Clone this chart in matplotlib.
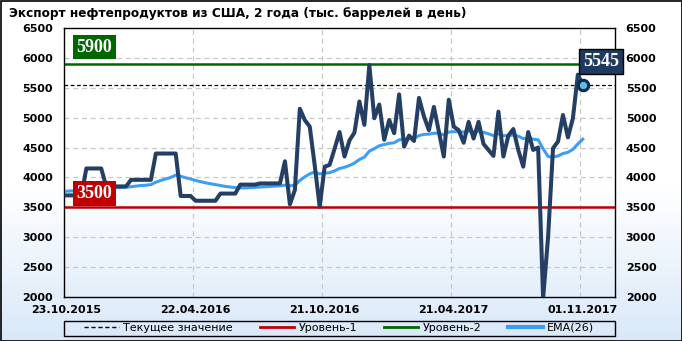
import numpy as np
import matplotlib
matplotlib.use("Agg")
import matplotlib.pyplot as plt
from matplotlib.lines import Line2D
from matplotlib.patches import Rectangle
import matplotlib.transforms as mtransforms

# ---------------- data ----------------
title = "Экспорт нефтепродуктов из США, 2 года (тыс. баррелей в день)"
date_labels = ["23.10.2015", "22.04.2016", "21.10.2016", "21.04.2017", "01.11.2017"]
date_label_idx = [0, 26, 52, 78, 104]

export_values = [
    3700, 3700, 3700, 3700, 4150, 4150, 4150, 4150, 3850, 3850,
    3850, 3850, 3850, 3960, 3960, 3960, 3960, 3960, 4400, 4400,
    4400, 4400, 4400, 3690, 3690, 3690, 3610, 3610, 3610, 3610,
    3610, 3730, 3730, 3730, 3730, 3880, 3880, 3880, 3880, 3900,
    3900, 3900, 3900, 3900, 4270, 3550, 3790, 5150, 4960, 4850,
    4200, 3510, 4180, 4210, 4480, 4760, 4350, 4620, 4750, 5270,
    4880, 5880, 4990, 5220, 4630, 4960, 4740, 5390, 4515, 4700,
    4610, 5330, 5020, 4790, 5180, 4770, 4350, 5300, 4850, 4790,
    4580, 4930, 4650, 4930, 4560, 4460, 4360, 5100, 4350, 4700,
    4810, 4460, 4180, 4760, 4460, 4500, 1980, 3000, 4490, 4600,
    5045, 4670, 4990, 5720, 5545,
]

ema_values = [
    3770, 3775, 3780, 3780, 3795, 3800, 3810, 3820, 3825, 3825,
    3830, 3830, 3835, 3845, 3855, 3865, 3870, 3880, 3920, 3950,
    3975, 4000, 4040, 4020, 3995, 3975, 3950, 3930, 3910, 3895,
    3880, 3865, 3850, 3840, 3830, 3825, 3825, 3830, 3835, 3840,
    3845, 3850, 3855, 3860, 3870, 3860, 3870, 3950, 4010, 4060,
    4090, 4060, 4070, 4080, 4110, 4150, 4170, 4200, 4240, 4300,
    4340, 4440, 4480, 4530, 4550, 4570, 4580, 4630, 4640, 4650,
    4655, 4700, 4720, 4725, 4740, 4740, 4710, 4760, 4765, 4765,
    4760, 4770, 4760, 4770, 4755, 4730, 4700, 4730, 4700, 4700,
    4710, 4690, 4650, 4660, 4640, 4630, 4480, 4350, 4340, 4360,
    4400, 4420, 4470, 4560, 4640,
]

current_value = 5545
level_1 = 3500
level_2 = 5900
y_ticks = [2000, 2500, 3000, 3500, 4000, 4500, 5000, 5500, 6000, 6500]
legend_labels = ["Текущее значение", "Уровень-1", "Уровень-2", "EMA(26)"]

# ---------------- style ----------------
DARK = "#243f63"
EMA_C = "#3d9ef5"
RED = "#c00000"
GREEN = "#006600"
NAVY_BOX = "#1f3a5f"

W, H = 682, 341
fig = plt.figure(figsize=(W / 100, H / 100), dpi=100)

# background gradient
bg = fig.add_axes([0, 0, 1, 1], zorder=-10)
bg.set_axis_off()
n = 256
t = np.linspace(0, 1, n)  # 0 top -> 1 bottom
frac = np.clip((t - 0.55) / 0.45, 0, 1)
top = np.array([1.0, 1.0, 1.0])
bot = np.array([0.85, 0.91, 0.975])
grad = top[None, :] * (1 - frac[:, None]) + bot[None, :] * frac[:, None]
bg.imshow(grad[:, None, :], aspect="auto", extent=[0, 1, 0, 1], origin="upper")
bg.set_xlim(0, 1)
bg.set_ylim(0, 1)

left, right = 64 / W, 614.6 / W
bottom, topy = 1 - 297 / H, 1 - 28 / H
ax = fig.add_axes([left, bottom, right - left, topy - bottom])
ax.set_facecolor("none")

x = np.arange(len(export_values))
xmin, xmax = -0.5, 110.4
ax.set_xlim(xmin, xmax)
ax.set_ylim(2000, 6500)

# grid
for yv in y_ticks[1:-1]:
    ax.axhline(yv, color="#c8c8c8", lw=0.9, ls=(0, (4, 3)), zorder=1)
for k in date_label_idx[1:]:
    ax.axvline(k - 0.5, color="#c8c8c8", lw=0.9, ls=(0, (4, 3)), zorder=1)

# levels
ax.axhline(level_1, color=RED, lw=1.8, zorder=2)
ax.axhline(level_2, color=GREEN, lw=1.8, zorder=2)
ax.axhline(current_value, color="black", lw=0.9, ls=(0, (3, 2)), zorder=2)

# series
ax.plot(x, ema_values, color=EMA_C, lw=2.2, zorder=3, solid_joinstyle="round")
ax.plot(x, export_values, color=DARK, lw=2.9, zorder=4, solid_joinstyle="round")
ax.plot([x[-1]], [export_values[-1]], "o", ms=7.5, mfc="#62bddc", mec="#0d2a55",
        mew=2.2, zorder=6)

# axis styling
for s in ax.spines.values():
    s.set_color("black")
    s.set_linewidth(1)
ax.set_yticks(y_ticks)
ax.set_yticklabels([str(v) for v in y_ticks])
ax.set_xticks(date_label_idx)
ax.set_xticklabels(date_labels)
ax.tick_params(axis="y", length=0, pad=8, labelsize=8, labelright=True)
ax.tick_params(axis="x", length=0, pad=6, labelsize=8)
for tk in ax.yaxis.get_major_ticks():
    tk.label1.set_fontweight("bold")
    tk.label2.set_fontweight("bold")
for tk in ax.xaxis.get_major_ticks():
    tk.label1.set_fontweight("bold")

# value boxes
box_font = dict(family=["Liberation Serif", "DejaVu Serif"], fontweight="bold",
                fontsize=13, color="white")
trans = mtransforms.blended_transform_factory(ax.transAxes, ax.transData)
ax.text((94.5 - 64) / 550.6, 6182, f"{level_2}", transform=trans, ha="center",
        va="center", zorder=7, **box_font,
        bbox=dict(boxstyle="square,pad=0.22", fc=GREEN, ec="none"))
ax.text((94.5 - 64) / 550.6, 3724, f"{level_1}", transform=trans, ha="center",
        va="center", zorder=7, **box_font,
        bbox=dict(boxstyle="square,pad=0.22", fc=RED, ec="none"))
ax.annotate(f"{current_value}", xy=(x[-1], export_values[-1]),
            xytext=(18 * 0.72, 23.5 * 0.72), textcoords="offset points",
            ha="center", va="center", zorder=8, annotation_clip=False, **box_font,
            bbox=dict(boxstyle="square,pad=0.22", fc=NAVY_BOX, ec="black", lw=1))

# title
fig.text(9 / W, 1 - 14 / H, title, ha="left", va="center", fontsize=8.7,
         fontweight="bold")

# legend
handles = [
    Line2D([], [], color="black", lw=1, ls=(0, (3, 2))),
    Line2D([], [], color=RED, lw=2),
    Line2D([], [], color=GREEN, lw=2),
    Line2D([], [], color=EMA_C, lw=3),
]
leg = fig.legend(handles, legend_labels, loc="center",
                 bbox_to_anchor=((64 + 614.6) / 2 / W, 1 - 328 / H), ncol=4,
                 frameon=False, fontsize=8, handlelength=3.1, handletextpad=0.4,
                 columnspacing=2.4, borderpad=0.2)
fig.patches.append(Rectangle((64 / W, 1 - 335.5 / H), (614.6 - 64) / W, 15 / H,
                             transform=fig.transFigure, fill=False, ec="black",
                             lw=1, zorder=5))

# outer border
fig.patches.append(Rectangle((0.5 / W, 0.5 / H), 1 - 1 / W, 1 - 1 / H,
                             transform=fig.transFigure, fill=False, ec="black",
                             lw=1.2, zorder=10))

fig.savefig("out.png", dpi=100)
